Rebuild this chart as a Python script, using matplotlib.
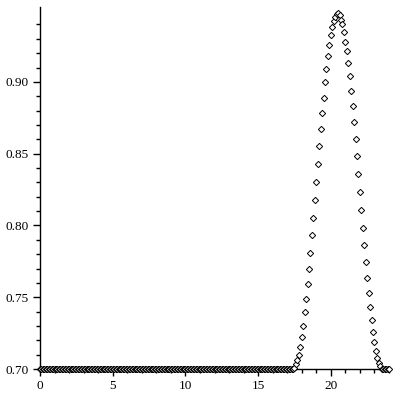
import numpy as np
import matplotlib
matplotlib.use("Agg")
import matplotlib.pyplot as plt
from matplotlib.ticker import MultipleLocator, FixedLocator, FormatStrFormatter

# sampling grid of the curve: 0.0, 0.1, ..., 24.0
x_start = 0.0
x_step = 0.1

# flat part before the bump (x = 0.0 .. 17.4)
y_flat_left = [0.70] * 175

# bump, x = 17.5 .. 23.4
y_rise = [0.7010, 0.7035, 0.7060, 0.7100, 0.7155, 0.7225, 0.7300, 0.7395,
          0.7485, 0.7590, 0.7700, 0.7810, 0.7930, 0.8055, 0.8180, 0.8305,
          0.8425, 0.8550, 0.8670, 0.8780, 0.8890, 0.9000, 0.9090, 0.9180,
          0.9258, 0.9327, 0.9383, 0.9425, 0.9452, 0.9471, 0.9483]
y_fall = [0.9464, 0.9434, 0.9400, 0.9346, 0.9281, 0.9214, 0.9132, 0.9038,
          0.8937, 0.8829, 0.8717, 0.8599, 0.8481, 0.8355, 0.8230, 0.8105,
          0.7979, 0.7861, 0.7743, 0.7631, 0.7527, 0.7430, 0.7339, 0.7260,
          0.7190, 0.7127, 0.7077, 0.7042, 0.7019]

# flat part after the bump (x = 23.5 .. 24.0)
y_flat_right = [0.70] * 6

# tick marks of the y axis (no tick at 0.95 in the original)
y_major = [0.70, 0.75, 0.80, 0.85, 0.90]
y_minor = [0.71, 0.72, 0.73, 0.74, 0.76, 0.77, 0.78, 0.79, 0.81, 0.82,
           0.83, 0.84, 0.86, 0.87, 0.88, 0.89, 0.91, 0.92, 0.93, 0.94]

y = np.array(y_flat_left + y_rise + y_fall + y_flat_right)
x = np.round(x_start + x_step * np.arange(len(y)), 1)

plt.rcParams["font.family"] = ["Liberation Serif", "DejaVu Serif"]

fig = plt.figure(figsize=(4, 4), dpi=100)
ax = fig.add_axes([0.1, 0.0775, 0.8725, 0.9045])

ax.plot(x, y, linestyle="none", marker="D", markersize=3.2,
        markerfacecolor="white", markeredgecolor="black",
        markeredgewidth=0.7, clip_on=False, zorder=3)

ax.set_xlim(0, 24)
ax.set_ylim(0.70, 0.952)

ax.spines["top"].set_visible(False)
ax.spines["right"].set_visible(False)
ax.spines["left"].set_linewidth(1.0)
ax.spines["bottom"].set_linewidth(1.0)

ax.xaxis.set_major_locator(MultipleLocator(5))
ax.xaxis.set_minor_locator(MultipleLocator(1))
ax.yaxis.set_major_locator(FixedLocator(y_major))
ax.yaxis.set_minor_locator(FixedLocator(y_minor))
ax.yaxis.set_major_formatter(FormatStrFormatter("%.2f"))

ax.tick_params(which="major", length=5, width=1, labelsize=9.5,
               pad=3, colors="black")
ax.tick_params(which="minor", length=3, width=1)

fig.savefig("out.png", dpi=100)
